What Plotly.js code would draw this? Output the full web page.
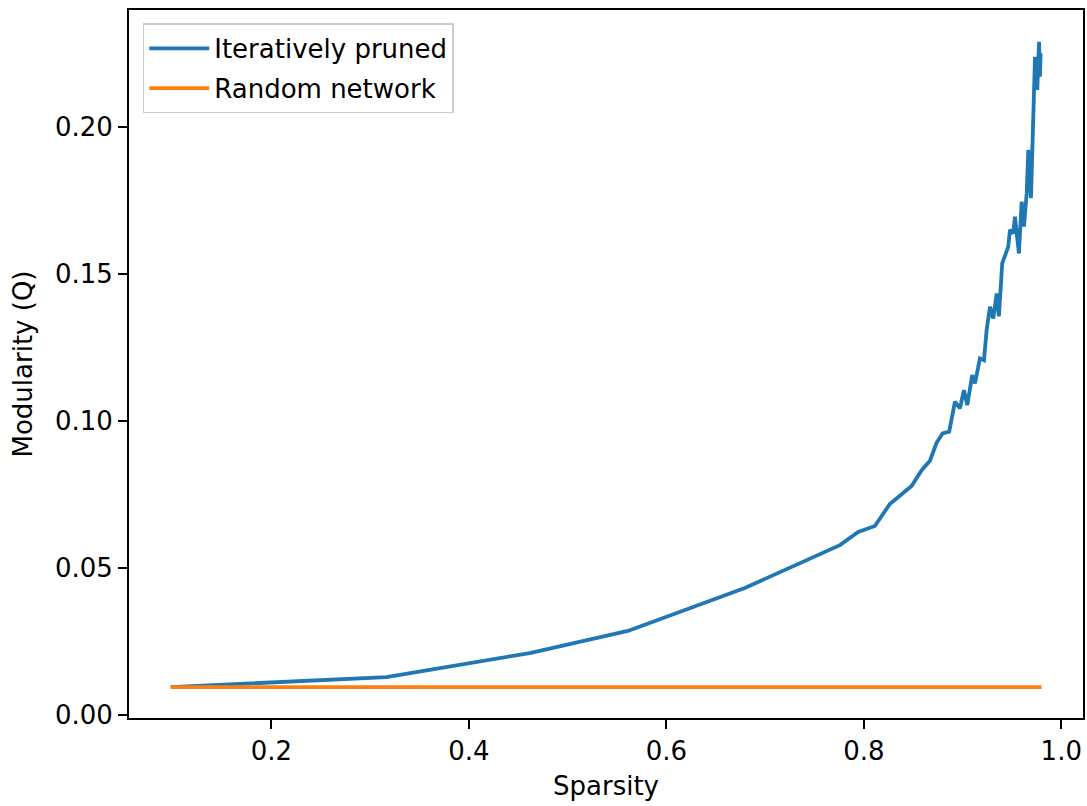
<!DOCTYPE html>
<html>
<head>
<meta charset="utf-8">
<script src="https://cdn.plot.ly/plotly-3.0.1.min.js"></script>
<style>html,body{margin:0;padding:0;background:#fff;}#chart{width:1087px;height:806px;}</style>
</head>
<body>
<div id="chart"></div>
<script>
// Data
const prunedSparsity = [0.098, 0.3166, 0.4617, 0.5610, 0.6795, 0.7758, 0.7943, 0.8112, 0.8264, 0.8484,
  0.8586, 0.8670, 0.8737, 0.8798, 0.8865, 0.8923, 0.8974, 0.9014, 0.9048, 0.9098,
  0.9126, 0.9176, 0.9217, 0.9244, 0.9278, 0.9311, 0.9346, 0.9368, 0.9402, 0.9430,
  0.9463, 0.9480, 0.9514, 0.9531, 0.9571, 0.9599, 0.9622, 0.9650, 0.9666, 0.9693,
  0.9710, 0.9717, 0.9730, 0.9734, 0.9757, 0.9775, 0.9784, 0.9791];
const prunedModularity = [0.0094, 0.0128, 0.0210, 0.0285, 0.0431, 0.0577, 0.0622, 0.0642, 0.0717, 0.0778,
  0.0832, 0.0864, 0.0925, 0.0957, 0.0963, 0.1065, 0.1042, 0.1104, 0.1053, 0.1155,
  0.1127, 0.1212, 0.1206, 0.1309, 0.1388, 0.1348, 0.1433, 0.1355, 0.1535, 0.1558,
  0.1592, 0.1649, 0.1637, 0.1694, 0.1569, 0.1745, 0.1660, 0.1774, 0.1921, 0.1757,
  0.1932, 0.1989, 0.2119, 0.2238, 0.2125, 0.2289, 0.2170, 0.2250];
const randomSparsity = [0.098, 0.980];
const randomModularity = [0.0094, 0.0094];
const seriesNames = ["Iteratively pruned", "Random network"];
const xTickVals = [0.2, 0.4, 0.6, 0.8, 1.0];
const yTickVals = [0.00, 0.05, 0.10, 0.15, 0.20];

const font = "DejaVu Sans, sans-serif";
const fs = 26;
const traces = [
  {x: prunedSparsity, y: prunedModularity, name: seriesNames[0], type: "scatter", mode: "lines",
   line: {color: "#1f77b4", width: 3.8}, legendgroup: "a"},
  {x: randomSparsity, y: randomModularity, name: seriesNames[1], type: "scatter", mode: "lines",
   line: {color: "#ff7f0e", width: 3.8}, legendgroup: "b"}
];
const axisCommon = {
  showline: true, mirror: true, linecolor: "#000", linewidth: 2,
  ticks: "outside", ticklen: 9, tickwidth: 2, tickcolor: "#000",
  showgrid: false, zeroline: false,
  tickfont: {family: font, size: fs, color: "#000"}
};
const layout = {
  width: 1087, height: 806,
  paper_bgcolor: "#fff", plot_bgcolor: "#fff",
  margin: {l: 129, r: 4, t: 10, b: 88},
  showlegend: true,
  font: {family: font, color: "#000"},
  xaxis: Object.assign({}, axisCommon, {
    range: [0.0558, 1.022], tickvals: xTickVals, tickformat: ".1f",
    title: {text: "Sparsity", font: {family: font, size: fs, color: "#000"}, standoff: 12}
  }),
  yaxis: Object.assign({}, axisCommon, {
    range: [-0.0011, 0.2397], tickvals: yTickVals, tickformat: ".2f",
    title: {text: "Modularity (Q)", font: {family: font, size: fs, color: "#000"}, standoff: 15}
  }),
  legend: {
    x: 0.0144, y: 0.981, xanchor: "left", yanchor: "top",
    bgcolor: "rgba(255,255,255,0.8)", bordercolor: "#cccccc", borderwidth: 1.5,
    font: {family: font, size: fs, color: "#000"},
    itemwidth: 60,
    tracegroupgap: 3
  }
};
Plotly.newPlot("chart", traces, layout, {displayModeBar: false, staticPlot: true});
</script>
</body>
</html>
